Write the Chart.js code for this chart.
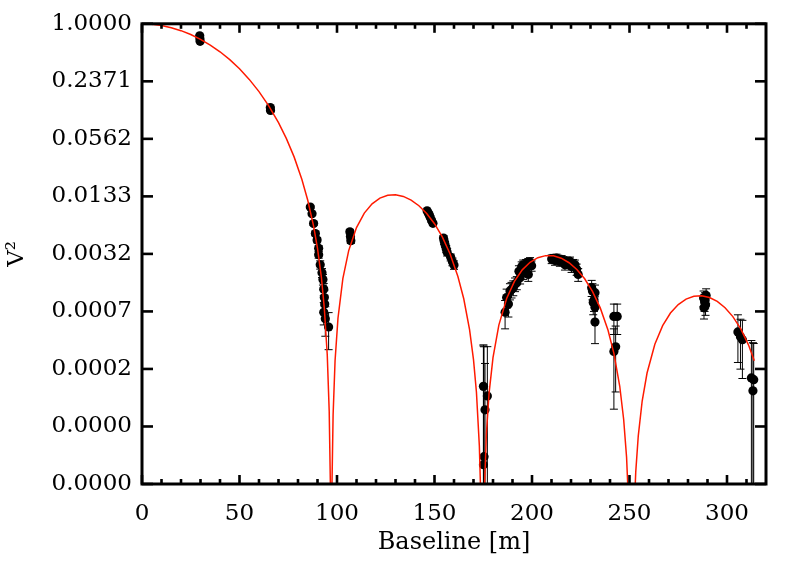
<!DOCTYPE html>
<html><head><meta charset="utf-8">
<script src="https://cdn.jsdelivr.net/npm/chart.js@4.4.1/dist/chart.umd.min.js"></script>
<style>html,body{margin:0;padding:0;background:#fff;}canvas{display:block;}</style>
</head><body>
<canvas id="c" width="789" height="564"></canvas>
<script>
// ---- tick values ----
const xTickValues = [0, 50, 100, 150, 200, 250, 300];
const xMinorTickValues = [10, 20, 30, 40, 60, 70, 80, 90, 110, 120, 130, 140, 160, 170, 180, 190, 210, 220, 230, 240, 260, 270, 280, 290, 310];
const yTickValues = [1, 0.23714, 0.056234, 0.013335, 0.0031623, 0.00074989, 0.00017783, 0.00004217, 0.00001];

// ---- model curve ----
const curveBaseline = [
  0, 5, 10, 15, 20, 25, 30, 35, 40, 45, 50, 55, 60, 65, 70, 74, 78, 82, 85, 88, 90, 92, 93.5, 95, 96, 96.6, 96.8,
  97.4, 98, 99, 100.5, 103, 106, 110, 114, 118, 122, 126, 130, 134, 138, 142, 146, 150, 154, 158, 162, 165, 168, 170, 171.5, 173, 173.8, 174.2,
  175.0, 175.6, 176.6, 178, 180, 183, 187, 191, 195, 199, 203, 207, 211, 215, 219, 223, 227, 231, 235, 239, 242, 245, 247, 248.5, 249.8, 250.5,
  251.5, 252.2, 253.2, 254.5, 256.5, 259, 263, 267, 271, 275, 279, 283, 287, 291, 295, 299, 303, 307, 311, 314
];
const curveVis2 = [
  1, 0.9886, 0.9570, 0.9072, 0.8420, 0.7647, 0.6788, 0.5881, 0.4966, 0.4076, 0.3242, 0.2489, 0.1833, 0.1284, 0.08445, 0.05696, 0.03581, 0.02037, 0.01209, 0.006325, 0.003634, 0.001756, 0.000809, 0.000254, 0.000062, 0.0000098, 0.0000025,
  0.0000091, 0.0000561, 0.0002172, 0.0006329, 0.001705, 0.003435, 0.006105, 0.008771, 0.01107, 0.01276, 0.01370, 0.01387, 0.01332, 0.01216, 0.01056, 0.008695, 0.006733, 0.004841, 0.003160, 0.001798, 0.001029, 0.0004732, 0.0002245, 0.00009987, 0.00002597, 0.00000643, 0.0000016,
  0.0000014, 0.00000887, 0.00003484, 0.00009791, 0.0002365, 0.0005319, 0.001036, 0.001591, 0.002122, 0.002566, 0.002877, 0.003027, 0.003011, 0.002838, 0.002535, 0.002141, 0.001696, 0.001239, 0.0008194, 0.0004674, 0.0002625, 0.0001153, 0.00005059, 0.00001951, 0.00000444, 0.00000076,
  0.00000071, 0.00000406, 0.00001346, 0.0000334, 0.00007974, 0.0001607, 0.0003296, 0.0005246, 0.0007195, 0.0008907, 0.001020, 0.001094, 0.001108, 0.001062, 0.0009624, 0.0008229, 0.0006590, 0.0004874, 0.0003249, 0.0002179
];

// ---- measurements ----
const dataBaseline = [
  29.6, 29.7, 29.8, 65.8, 65.9,
  86.3, 87.2, 88.0, 88.9, 89.8, 90.6, 90.6, 91.4, 92.3, 92.8, 93.2, 93.5, 93.7, 93.2, 94.0, 95.7,
  106.6, 106.9, 107.1,
  146.2, 146.8, 147.3, 147.8, 148.5, 149.2,
  154.6, 155.0, 155.4, 156.0, 156.5,
  158.3, 159.2, 160.0,
  175.1, 177.1, 175.9, 175.4, 175.1,
  186.2, 187.9, 187.0, 188.7, 189.5, 190.4, 191.3, 192.2, 193.3, 193.9, 194.7, 195.5, 195.5, 196.4, 197.0, 197.3, 198.1, 198.1, 199.0, 199.8,
  210.1, 211.0, 211.8, 212.6, 213.5, 214.3, 215.2, 216.0, 216.9, 217.8, 218.6, 219.5, 220.3, 221.1, 222.0, 222.9, 223.7,
  230.6, 231.0, 232.3, 231.4, 232.3, 231.8, 232.3,
  242.0, 243.7, 242.9, 242.0,
  288.0, 288.5, 289.0, 288.2, 289.3, 288.8,
  305.6, 306.9, 307.9,
  312.5, 313.7, 313.3
];
const dataVis2 = [
  0.74, 0.69, 0.645, 0.123, 0.1145,
  0.0102, 0.00863, 0.00675, 0.00527, 0.00447, 0.00364, 0.00309, 0.00241, 0.00197, 0.00167, 0.00131, 0.00106, 0.000902, 0.000735, 0.000623, 0.000508,
  0.0055, 0.0049, 0.0044,
  0.0093, 0.0088, 0.0084, 0.0079, 0.0073, 0.0068,
  0.0047, 0.0043, 0.0040, 0.0036, 0.0033,
  0.0029, 0.0026, 0.0024,
  0.000115, 0.0000906, 0.000064, 0.0000198, 0.0000162,
  0.000735, 0.000902, 0.00106, 0.00125, 0.00130, 0.00136, 0.00148, 0.00154, 0.00205, 0.00174, 0.00229, 0.00197, 0.00241, 0.00215, 0.00245, 0.00223, 0.00252, 0.00189, 0.00258, 0.00235,
  0.00278, 0.00282, 0.00268, 0.00284, 0.00276, 0.00262, 0.00273, 0.00265, 0.00241, 0.00262, 0.00250, 0.00262, 0.00229, 0.00245, 0.00241, 0.00215, 0.00189,
  0.00136, 0.00125, 0.00120, 0.00094, 0.00083, 0.00100, 0.000575,
  0.000661, 0.000661, 0.00031, 0.000275,
  0.00105, 0.00095, 0.00088, 0.00082, 0.00112, 0.00100,
  0.000449, 0.000397, 0.00037,
  0.000142, 0.000136, 0.000103
];
const dataVis2Err = [
  0.01, 0.01, 0.01, 0.003, 0.003,
  0.0003, 0.0003, 0.0003, 0.0003, 0.0003, 0.00025, 0.00025, 0.00025, 0.00022, 0.00022, 0.0002, 0.0002, 0.0002, 0.0002, 0.00022, 0.00022,
  0.0003, 0.0003, 0.0003,
  0.0003, 0.0003, 0.0003, 0.0003, 0.0003, 0.0003,
  0.0003, 0.0003, 0.0003, 0.0003, 0.0003,
  0.00025, 0.00025, 0.00025,
  0.00021, 0.00022, 0.00014, 0.00029, 0.0003,
  0.00025, 0.00025, 0.00025, 0.00025, 0.00025, 0.00025, 0.00025, 0.00025, 0.0003, 0.00025, 0.0003, 0.0003, 0.0003, 0.0003, 0.0003, 0.0003, 0.0003, 0.0003, 0.0003, 0.0003,
  0.0003, 0.0003, 0.0003, 0.0003, 0.0003, 0.0003, 0.0003, 0.0003, 0.0003, 0.0003, 0.0003, 0.0003, 0.0003, 0.0003, 0.0003, 0.0003, 0.0003,
  0.00027, 0.00025, 0.00025, 0.00025, 0.00025, 0.00025, 0.00024,
  0.00024, 0.00024, 0.00021, 0.00021,
  0.0002, 0.0002, 0.0002, 0.0002, 0.0002, 0.0002,
  0.00024, 0.00022, 0.00023,
  0.00022, 0.0002, 0.00024
];

const FONT = 'DejaVu Serif';

const errorBarPlugin = {
  id: 'errorBars',
  beforeDatasetsDraw(chart) {
    const ctx = chart.ctx;
    const a = chart.chartArea;
    const xs = chart.scales.x;
    const ys = chart.scales.y;
    ctx.save();
    ctx.beginPath();
    ctx.rect(a.left, a.top, a.right - a.left, a.bottom - a.top);
    ctx.clip();
    ctx.strokeStyle = '#000';
    ctx.lineWidth = 1;
    const cap = 4;
    for (let i = 0; i < dataBaseline.length; i++) {
      const px = xs.getPixelForValue(dataBaseline[i]);
      const hi = dataVis2[i] + dataVis2Err[i];
      const lo = dataVis2[i] - dataVis2Err[i];
      const pyHi = ys.getPixelForValue(hi);
      const pyLo = lo > 0 ? ys.getPixelForValue(lo) : a.bottom + 20;
      ctx.beginPath();
      ctx.moveTo(px, pyHi); ctx.lineTo(px, pyLo);
      ctx.moveTo(px - cap, pyHi); ctx.lineTo(px + cap, pyHi);
      if (lo > 0) { ctx.moveTo(px - cap, pyLo); ctx.lineTo(px + cap, pyLo); }
      ctx.stroke();
    }
    ctx.beginPath();
    ctx.restore();
  }
};

const framePlugin = {
  id: 'frameTicks',
  afterDraw(chart) {
    const ctx = chart.ctx;
    const a = chart.chartArea;
    const xs = chart.scales.x;
    const ys = chart.scales.y;
    ctx.save();
    ctx.setTransform(1, 0, 0, 1, 0, 0);
    ctx.globalAlpha = 1;
    ctx.globalCompositeOperation = 'source-over';
    ctx.fillStyle = '#000000';
    const tw = 2.6;
    yTickValues.forEach(function (v) {
      const py = ys.getPixelForValue(v);
      ctx.fillRect(a.left, py - tw / 2, 11, tw);
      ctx.fillRect(a.right - 11, py - tw / 2, 11, tw);
    });
    xTickValues.forEach(function (v) {
      const px = xs.getPixelForValue(v);
      ctx.fillRect(px - tw / 2, a.bottom - 9, tw, 9);
      ctx.fillRect(px - tw / 2, a.top, tw, 9);
    });
    xMinorTickValues.forEach(function (v) {
      const px = xs.getPixelForValue(v);
      ctx.fillRect(px - tw / 2, a.bottom - 5, tw, 5);
      ctx.fillRect(px - tw / 2, a.top, tw, 5);
    });
    ctx.strokeStyle = '#000';
    ctx.lineWidth = 3;
    ctx.strokeRect(a.left, a.top, a.right - a.left, a.bottom - a.top);
    ctx.restore();
  }
};

const curvePoints = curveBaseline.map((b, i) => ({x: b, y: curveVis2[i]}));
const dataPoints = dataBaseline.map((b, i) => ({x: b, y: dataVis2[i]}));

new Chart(document.getElementById('c'), {
  type: 'scatter',
  data: {
    datasets: [
      {
        label: 'model',
        data: curvePoints,
        showLine: true,
        borderColor: '#ff1a00',
        borderWidth: 1.5,
        pointRadius: 0,
        tension: 0,
        fill: false
      },
      {
        label: 'data',
        data: dataPoints,
        showLine: false,
        pointRadius: 4.6,
        pointBackgroundColor: '#000',
        pointBorderColor: '#000',
        pointBorderWidth: 0
      }
    ]
  },
  options: {
    responsive: false,
    devicePixelRatio: 1,
    animation: false,
    events: [],
    layout: {padding: {top: 17, right: 23, left: 0, bottom: 0}},
    plugins: {legend: {display: false}, tooltip: {enabled: false}},
    scales: {
      x: {
        type: 'linear',
        min: 0,
        max: 320,
        afterBuildTicks: (s) => { s.ticks = xTickValues.map(v => ({value: v})); },
        afterFit: (s) => { s.height = 80; },
        grid: {display: false, drawTicks: false},
        border: {display: false},
        ticks: {
          autoSkip: false,
          maxRotation: 0,
          padding: 16,
          color: '#000',
          font: {family: FONT, size: 23},
          callback: (v) => String(v)
        },
        title: {
          display: true,
          text: 'Baseline [m]',
          color: '#000',
          font: {family: FONT, size: 24},
          padding: {top: 0, bottom: 7}
        }
      },
      y: {
        type: 'logarithmic',
        min: 0.00001,
        max: 1,
        afterBuildTicks: (s) => { s.ticks = yTickValues.map(v => ({value: v})); },
        afterFit: (s) => { s.width = 142; },
        grid: {display: false, drawTicks: false},
        border: {display: false},
        ticks: {
          autoSkip: false,
          padding: 10,
          color: '#000',
          font: {family: FONT, size: 23},
          callback: (v) => Number(v).toFixed(4)
        },
        title: {
          display: true,
          text: 'V²',
          color: '#000',
          font: {family: FONT, size: 23},
          padding: {top: 3, bottom: 0}
        }
      }
    }
  },
  plugins: [errorBarPlugin, framePlugin]
});
</script>
</body></html>
